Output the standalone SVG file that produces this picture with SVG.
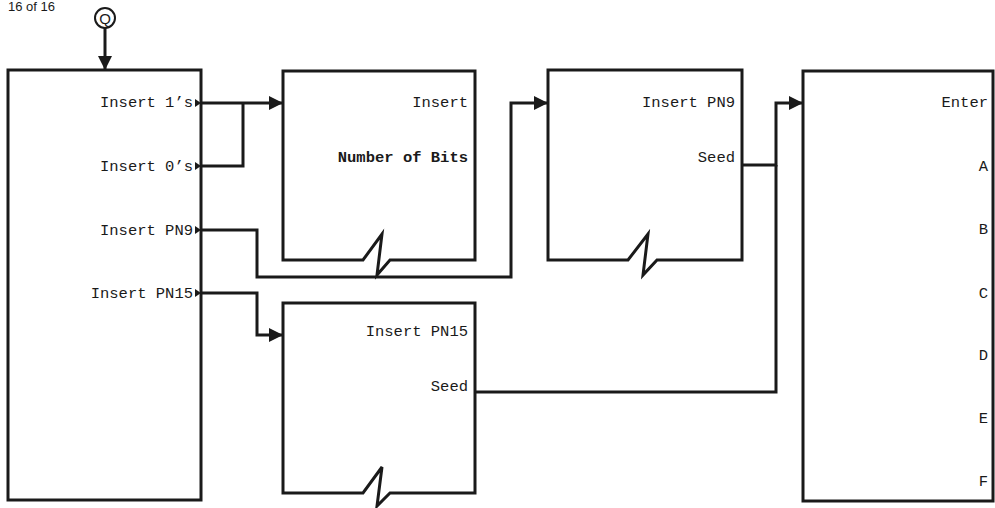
<svg xmlns="http://www.w3.org/2000/svg" width="995" height="508" viewBox="0 0 995 508">
<defs>
<style>
.blk{fill:#fff;stroke:#1a1a1a;stroke-width:3;stroke-linejoin:miter}
.ln{fill:none;stroke:#1a1a1a;stroke-width:3}
.t{font-family:"Liberation Mono","DejaVu Sans Mono",monospace;font-size:15.5px;fill:#1a1a1a;text-anchor:end}
.b{font-weight:bold}
.port{fill:#1a1a1a}
</style>
<marker id="ah" markerUnits="userSpaceOnUse" markerWidth="14" markerHeight="14" refX="13" refY="7" orient="auto">
<path d="M0,0 L14,7 L0,14 Z" fill="#1a1a1a"/>
</marker>
</defs>
<rect width="995" height="508" fill="#fff"/>
<text x="8" y="11" style="font-family:'Liberation Sans',Arial,sans-serif;font-size:13px;fill:#1a1a1a">16 of 16</text>

<g id="q">
<circle cx="105" cy="18" r="10" fill="#fff" stroke="#1a1a1a" stroke-width="2"/>
<text x="105" y="23.5" style="font-family:'Liberation Sans',Arial,sans-serif;font-size:15px;fill:#1a1a1a;text-anchor:middle">Q</text>
</g>

<g id="menu">
<rect class="blk" x="8" y="70" width="193" height="430"/>
<text class="t" x="193" y="107">Insert 1’s</text>
<text class="t" x="193" y="171">Insert 0’s</text>
<text class="t" x="193" y="235">Insert PN9</text>
<text class="t" x="193" y="298">Insert PN15</text>
<polygon class="port" points="195,99 201,103 195,107"/>
<polygon class="port" points="195,162 201,166 195,170"/>
<polygon class="port" points="195,226 201,230 195,234"/>
<polygon class="port" points="195,289 201,293 195,297"/>
</g>

<g id="insert">
<path class="blk" d="M283,71 H475 V260 H390 L377,275 L382,234 L363,260 H283 Z"/>
<text class="t" x="468" y="107">Insert</text>
<text class="t b" x="468" y="162">Number of Bits</text>
</g>

<g id="pn9">
<path class="blk" d="M548,70 H742 V260 H657 L643,275 L648,234 L628,260 H548 Z"/>
<text class="t" x="735" y="107">Insert PN9</text>
<text class="t" x="735" y="162">Seed</text>
</g>

<g id="pn15">
<path class="blk" d="M283,303 H475 V493 H390 L377,506 L382,467 L363,493 H283 Z"/>
<text class="t" x="468" y="336">Insert PN15</text>
<text class="t" x="468" y="391">Seed</text>
</g>

<g id="enter">
<rect class="blk" x="803" y="71" width="190" height="430"/>
<text class="t" x="988" y="107">Enter</text>
<text class="t" x="988" y="171">A</text>
<text class="t" x="988" y="234">B</text>
<text class="t" x="988" y="298">C</text>
<text class="t" x="988" y="360">D</text>
<text class="t" x="988" y="423">E</text>
<text class="t" x="988" y="486">F</text>
</g>

<g id="connectors">
<path class="ln" d="M105,28 V69" marker-end="url(#ah)"/>
<path class="ln" d="M201,103 H282" marker-end="url(#ah)"/>
<path class="ln" d="M201,166 H243 V103"/>
<path class="ln" d="M201,230 H257 V277 H511 V103 H547" marker-end="url(#ah)"/>
<path class="ln" d="M201,293 H257 V335 H282" marker-end="url(#ah)"/>
<path class="ln" d="M742,165 H776 V103 H802" marker-end="url(#ah)"/>
<path class="ln" d="M475,392 H776 V165"/>
</g>
</svg>
